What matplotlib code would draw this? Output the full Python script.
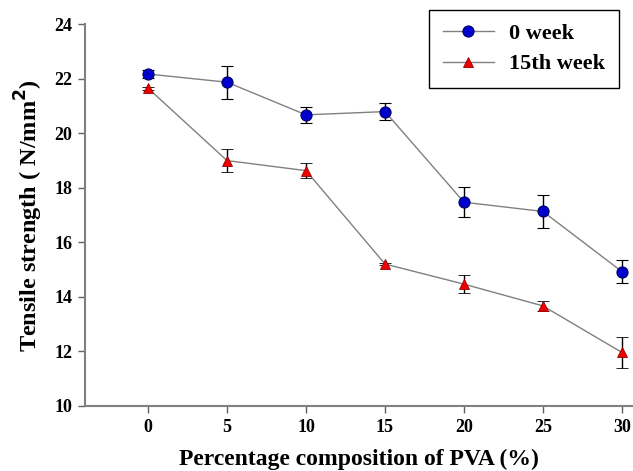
import matplotlib
matplotlib.use("Agg")
import matplotlib.pyplot as plt

# PVA content (%) and tensile strength (N/mm^2)
pva = [0, 5, 10, 15, 20, 25, 30]
week0 = [22.18, 21.88, 20.68, 20.80, 17.47, 17.13, 14.92]
week0_err = [0.15, 0.60, 0.30, 0.30, 0.55, 0.60, 0.42]
week15 = [21.66, 19.00, 18.63, 15.20, 14.46, 13.66, 11.95]
week15_err = [0.05, 0.43, 0.28, 0.05, 0.32, 0.18, 0.56]

plt.rcParams["font.family"] = ["Liberation Serif", "DejaVu Serif"]
plt.rcParams["font.weight"] = "bold"

fig = plt.figure(figsize=(6.33, 4.71), dpi=100)
ax = fig.add_axes([0.134, 0.139, 0.866, 0.809])

eb0 = ax.errorbar(pva, week0, yerr=week0_err, color="#808080", lw=1,
                  marker="o", ms=8, mfc="#0000cc", mec="#000066", mew=0.8,
                  ecolor="black", elinewidth=1, capsize=4, capthick=1,
                  zorder=3)
eb15 = ax.errorbar(pva, week15, yerr=week15_err, color="#808080", lw=1,
                   marker="^", ms=6.5, mfc="#ee0000", mec="#990000", mew=0.6,
                   ecolor="black", elinewidth=1, capsize=4, capthick=1,
                   zorder=3)

ax.set_xlim(-4, 30.7)
ax.set_ylim(10, 24)
ax.set_xticks(pva)
ax.set_yticks(range(10, 25, 2))
for s in ("top", "right"):
    ax.spines[s].set_visible(False)
for s in ("left", "bottom"):
    ax.spines[s].set_color("#808080")
    ax.spines[s].set_linewidth(1.5)
ax.tick_params(axis="both", direction="out", length=5, width=1,
               color="#606060", labelsize=13)
ax.tick_params(axis="x", pad=5)
ax.tick_params(axis="y", pad=4)
for lbl in ax.get_xticklabels() + ax.get_yticklabels():
    lbl.set_fontweight("bold")

ax.set_xlabel("Percentage composition of PVA (%)", fontsize=17,
              fontweight="bold", labelpad=9)
ax.set_ylabel("Tensile strength ( N/mm$^\\mathbf{2}$)", fontsize=17.5,
              fontweight="bold", labelpad=7)

leg = ax.legend([eb0[0], eb15[0]], ["0 week", "15th week"],
                loc="upper right", bbox_to_anchor=(0.974, 1.038),
                prop={"size": 16, "weight": "bold"}, fancybox=False,
                edgecolor="black", framealpha=1, handlelength=2.3,
                borderpad=0.6, labelspacing=0.45, handletextpad=0.7,
                borderaxespad=0)
leg.get_frame().set_linewidth(1)

fig.savefig("out.png", dpi=100)
